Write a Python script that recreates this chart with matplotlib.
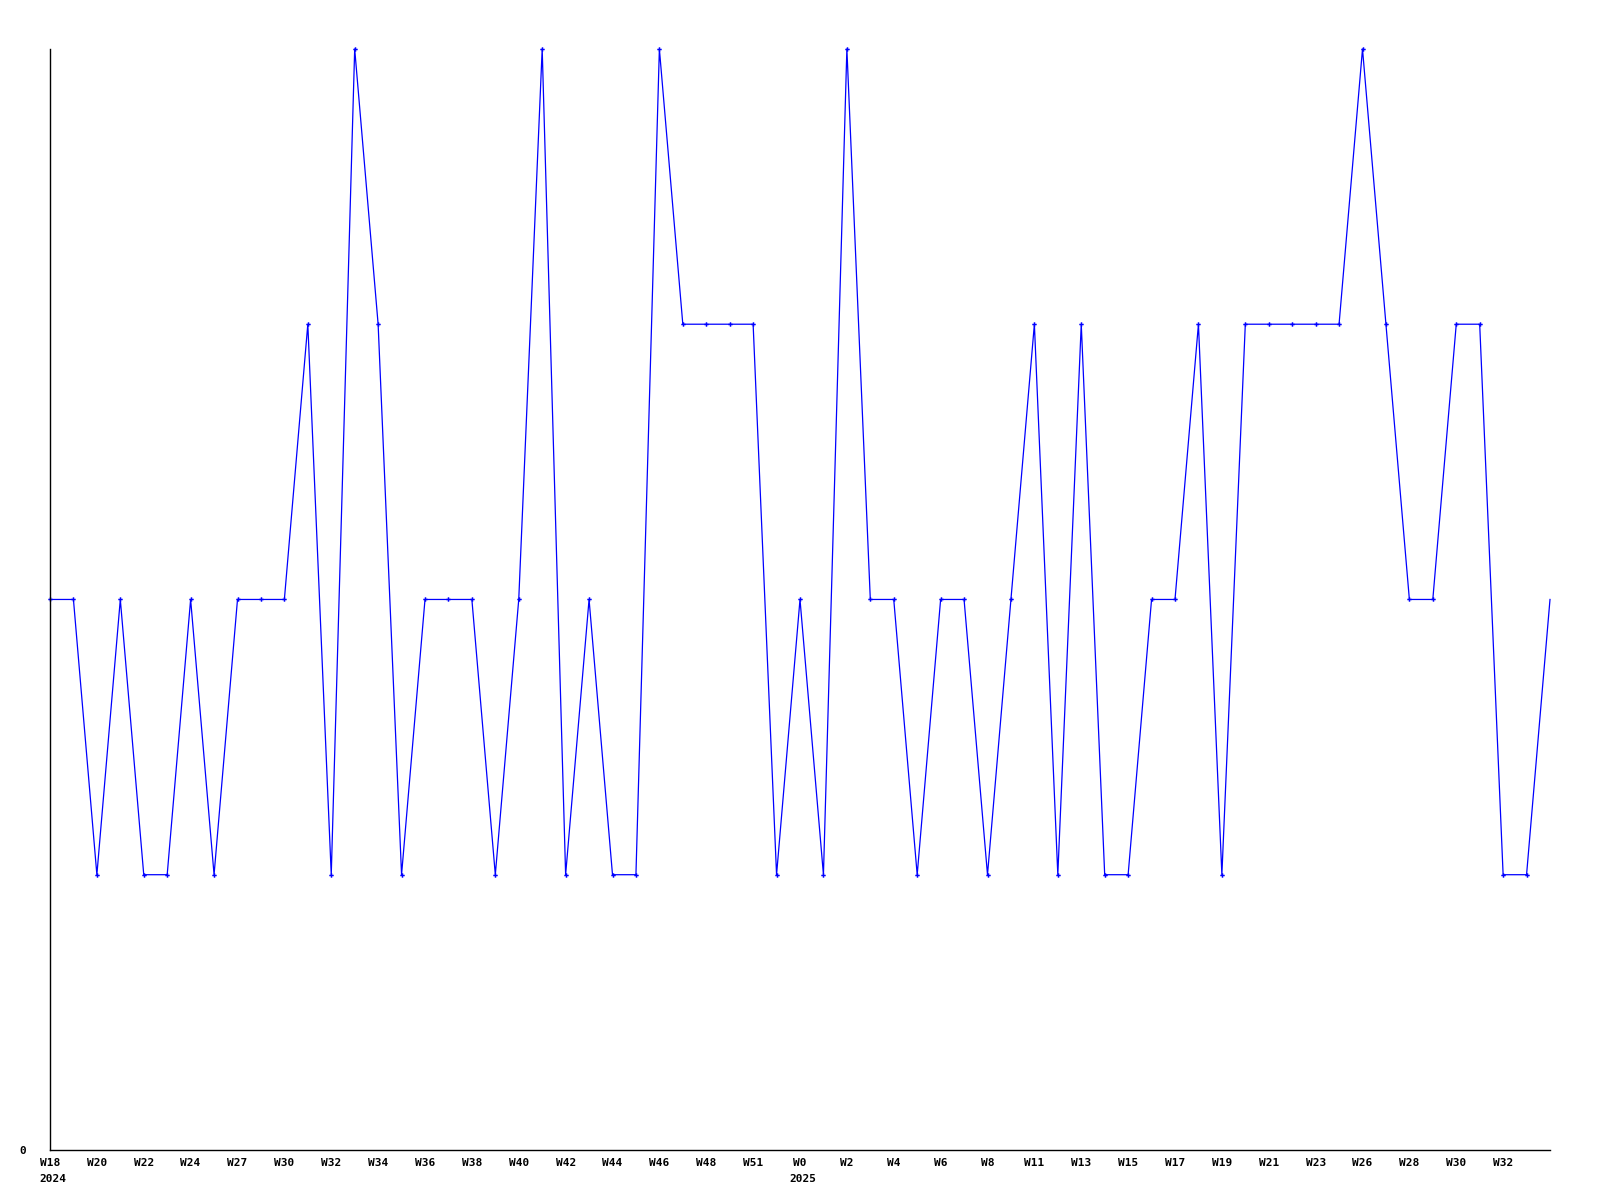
import matplotlib

matplotlib.use("Agg")
import matplotlib.pyplot as plt

# weekly counts, one per week starting W18 2024
values = [2, 2, 1, 2, 1, 1, 2, 1, 2, 2,
          2, 3, 1, 4, 3, 1, 2, 2, 2, 1,
          2, 4, 1, 2, 1, 1, 4, 3, 3, 3,
          3, 1, 2, 1, 4, 2, 2, 1, 2, 2,
          1, 2, 3, 1, 3, 1, 1, 2, 2, 3,
          1, 3, 3, 3, 3, 3, 4, 3, 2, 2,
          3, 3, 1, 1, 2]

tick_labels = ["W18", "W20", "W22", "W24", "W27", "W30", "W32", "W34",
               "W36", "W38", "W40", "W42", "W44", "W46", "W48", "W51",
               "W0", "W2", "W4", "W6", "W8", "W11", "W13", "W15",
               "W17", "W19", "W21", "W23", "W26", "W28", "W30", "W32"]
year_marks = {"W18": "2024", "W0": "2025"}

x = list(range(len(values)))
tick_pos = x[::2][:len(tick_labels)]

fig = plt.figure(figsize=(16, 12), dpi=100)
ax = fig.add_axes([0.03125, 0.0417, 0.9375, 0.9175])

ax.plot(x, values, color="#0000ff", lw=0.9, marker="P", ms=3.2, mew=0,
        markevery=list(range(len(values) - 1)), clip_on=False)

ax.set_xlim(0, len(values) - 1)
ax.set_ylim(0, 4)

font = dict(family="DejaVu Sans Mono", weight="bold", size=8)
ax.set_xticks(tick_pos)
ax.set_xticklabels(tick_labels, **font)
ax.set_yticks([0])
ax.set_yticklabels(["0"], **font)
ax.tick_params(axis="x", length=0, pad=6)
ax.tick_params(axis="y", length=0, pad=17)

for pos, lab in zip(tick_pos, tick_labels):
    if lab in year_marks:
        ax.annotate(year_marks[lab], xy=(pos, 0), xycoords=("data", "axes fraction"),
                    xytext=(-7.5, -17), textcoords="offset points",
                    ha="left", va="top", **font)

for side in ("top", "right"):
    ax.spines[side].set_visible(False)
for side in ("left", "bottom"):
    ax.spines[side].set_linewidth(1.0)

fig.savefig("out.png", dpi=100)
